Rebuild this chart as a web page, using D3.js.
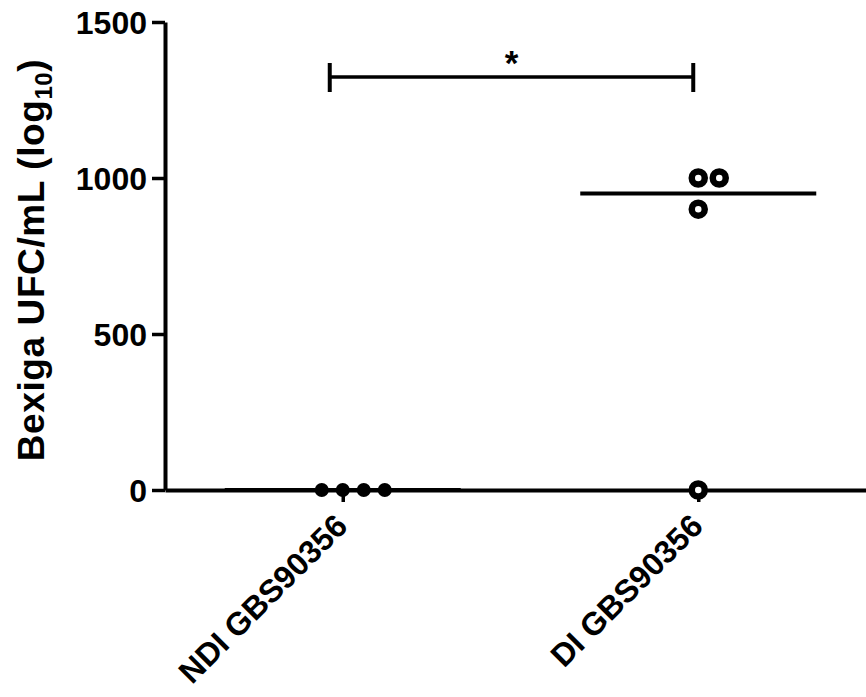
<!DOCTYPE html>
<html>
<head>
<meta charset="utf-8">
<script src="https://cdn.jsdelivr.net/npm/d3@7"></script>
<style>
  body { margin: 0; background: #fff; }
  text { font-family: "Liberation Sans", Arial, sans-serif; font-weight: bold; fill: #000; }
</style>
</head>
<body>
<svg id="figure" width="866" height="697"></svg>
<script>
// groups on the x axis
const groups = ["NDI GBS90356", "DI GBS90356"];
// individual values per group (log10 UFC/mL as labelled)
const ndiValues = [0, 0, 0, 0];
const diValues = [1000, 1000, 900, 0];
// horizontal offsets of the dots so they don't overlap (in dot widths)
const ndiJitter = [-1, 0, 1, 2];
const diJitter = [0, 1, 0, 0];
const yTicks = [0, 500, 1000, 1500];
const significance = "*";

const svg = d3.select("#figure");

const y = d3.scaleLinear().domain([0, 1500]).range([490, 22]);
const x = d3.scalePoint().domain(groups).range([165, 876]).padding(0.5);

// y axis
const yAxis = svg.append("g")
    .attr("transform", "translate(165,0)")
    .call(d3.axisLeft(y).tickValues(yTicks).tickFormat(d3.format("d"))
        .tickSize(13).tickPadding(5).tickSizeOuter(0));
yAxis.select(".domain").attr("stroke-width", 4);
yAxis.selectAll(".tick line").attr("stroke-width", 3.5);
yAxis.selectAll(".tick text").style("font-size", "32px").attr("dy", "0.36em");

// x axis
const xAxis = svg.append("g")
    .attr("transform", "translate(0,490)")
    .call(d3.axisBottom(x).tickSize(12).tickSizeOuter(0).tickFormat(""));
xAxis.select(".domain").attr("stroke-width", 4);
xAxis.selectAll(".tick line").attr("stroke-width", 3.5);

xAxis.selectAll(".tick").append("text")
    .attr("transform", "translate(6,38) rotate(-45)")
    .attr("text-anchor", "end")
    .style("font-size", "32px")
    .text(d => d);

// y label
svg.append("text")
    .attr("transform", "translate(44,260) rotate(-90)")
    .attr("text-anchor", "middle")
    .style("font-size", "37px")
    .style("letter-spacing", "0.6px")
    .html("Bexiga UFC/mL (log<tspan dy='8' style='font-size:24px'>10</tspan><tspan dy='-8'>)</tspan>");

const step = 21;

// median lines
const medians = [d3.median(ndiValues), d3.median(diValues)];
svg.selectAll("line.median")
    .data(medians)
    .join("line")
    .attr("class", "median")
    .attr("x1", (d, i) => x(groups[i]) - 118)
    .attr("x2", (d, i) => x(groups[i]) + 118)
    .attr("y1", d => y(d))
    .attr("y2", d => y(d))
    .attr("stroke", "#000")
    .attr("stroke-width", 4);

// NDI: filled dots
svg.selectAll("circle.ndi")
    .data(ndiValues)
    .join("circle")
    .attr("class", "ndi")
    .attr("cx", (d, i) => x(groups[0]) + ndiJitter[i] * step)
    .attr("cy", d => y(d))
    .attr("r", 7)
    .attr("fill", "#000");

// DI: open rings
svg.selectAll("circle.di")
    .data(diValues)
    .join("circle")
    .attr("class", "di")
    .attr("cx", (d, i) => x(groups[1]) + diJitter[i] * step)
    .attr("cy", d => y(d))
    .attr("r", 6.5)
    .attr("fill", "#fff")
    .attr("stroke", "#000")
    .attr("stroke-width", 6.5);

// significance bracket
const bY = 77;
const bx1 = x(groups[0]) - 13, bx2 = x(groups[1]) - 5;
const bracket = svg.append("g").attr("stroke", "#000").attr("stroke-width", 4);
bracket.append("line").attr("x1", bx1).attr("x2", bx2).attr("y1", bY).attr("y2", bY).attr("stroke-width", 3.5);
bracket.append("line").attr("x1", bx1).attr("x2", bx1).attr("y1", bY - 14).attr("y2", bY + 15);
bracket.append("line").attr("x1", bx2).attr("x2", bx2).attr("y1", bY - 14).attr("y2", bY + 15);
svg.append("text")
    .attr("x", (bx1 + bx2) / 2)
    .attr("y", 75)
    .attr("text-anchor", "middle")
    .style("font-size", "35px")
    .text(significance);
</script>
</body>
</html>
